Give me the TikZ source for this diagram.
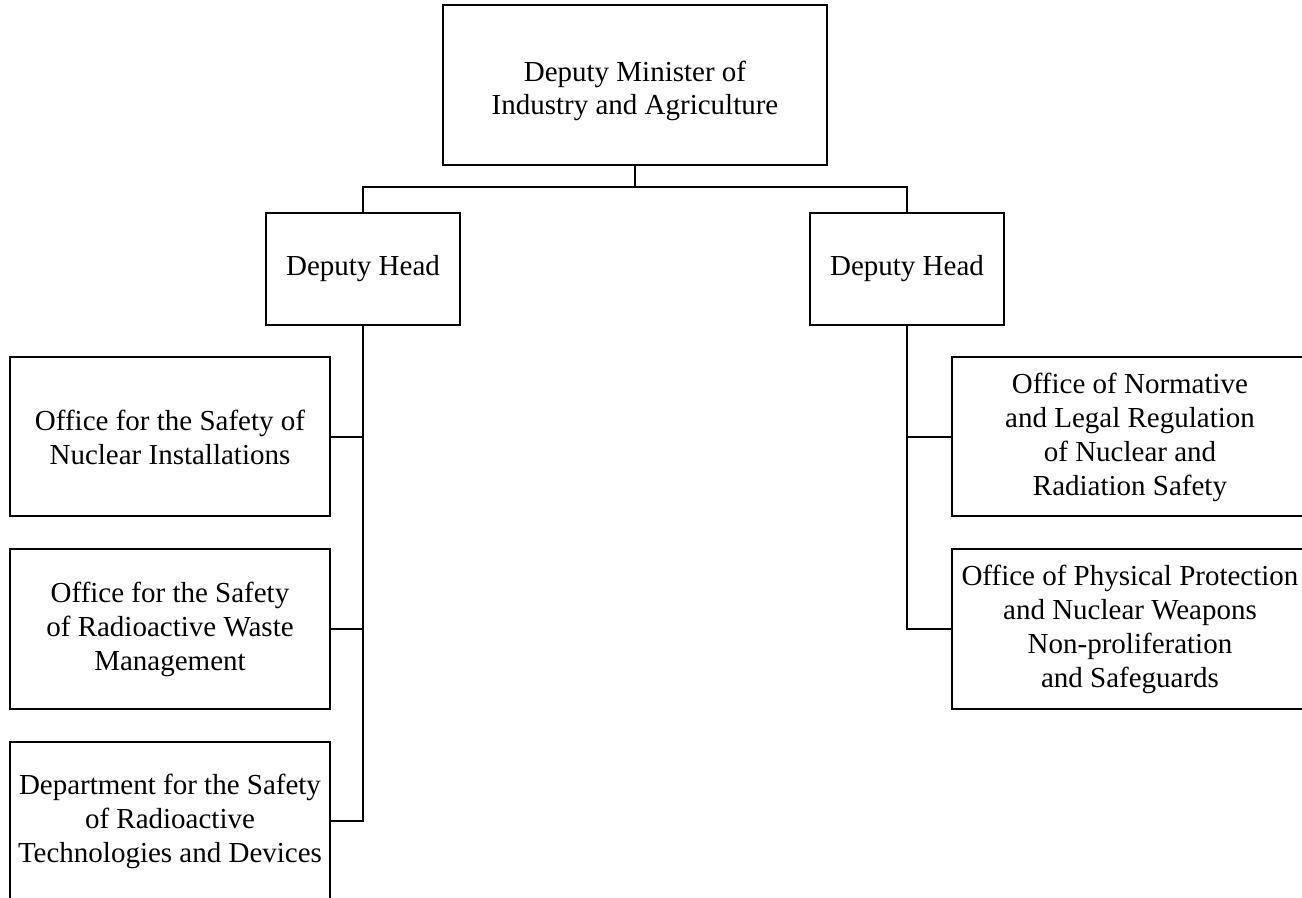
\documentclass[tikz,border=0pt]{standalone}
\usepackage{fontspec}
\setmainfont{Liberation Serif}

\begin{document}
\begin{tikzpicture}[x=0.5pt, y=-0.5pt, line width=1pt,
    box/.style={draw=black, rectangle, align=center, inner sep=0pt,
      font=\fontsize{14.5}{17}\selectfont},
    headbox/.style={box, minimum width=97pt, minimum height=56pt},
    leftbox/.style={box, minimum width=160pt, minimum height=79.5pt},
    rightbox/.style={box, minimum width=178pt, minimum height=79.5pt}]
    \useasboundingbox (0, 0) rectangle (1302, 898);
    \clip (0, 0) rectangle (1302, 898);

    % draw top box
    \node[box, minimum width=192pt, minimum height=80pt,
      font=\fontsize{14.5}{16.5}\selectfont] (minister) at (635, 85)
      {\rule{0pt}{16pt}Deputy Minister of\\Industry and Agriculture};

    % draw deputy heads
    \node[headbox] (headL) at (363, 269) {Deputy Head};
    \node[headbox] (headR) at (907, 269) {Deputy Head};

    % draw left offices
    \node[leftbox] (nuclear) at (170, 437)
      {Office for the Safety of\\Nuclear Installations};
    \node[leftbox] (waste) at (170, 629)
      {Office for the Safety\\of Radioactive Waste\\Management};
    \node[leftbox] (devices) at (170, 821)
      {Department for the Safety\\of Radioactive\\Technologies and Devices};

    % draw right offices
    \node[rightbox] (normative) at (1130, 437)
      {Office of Normative\\and Legal Regulation\\of Nuclear and\\Radiation Safety};
    \node[rightbox] (protection) at (1130, 629)
      {Office of Physical Protection\\and Nuclear Weapons\\Non-proliferation\\and Safeguards};

    % draw connectors
    \coordinate (fork) at (635, 187);
    \draw (minister.south) -- (fork);
    \draw (fork) -| (headL.north);
    \draw (fork) -| (headR.north);

    \draw (headL.south) |- (nuclear.east);
    \draw (headL.south) |- (waste.east);
    \draw (headL.south) |- (devices.east);

    \draw (headR.south) |- (normative.west);
    \draw (headR.south) |- (protection.west);
\end{tikzpicture}
\end{document}
